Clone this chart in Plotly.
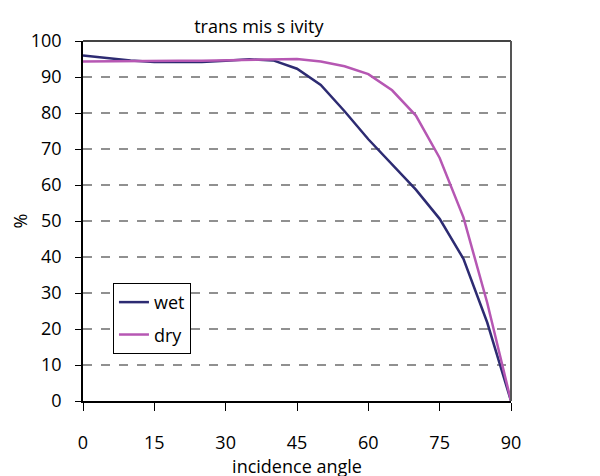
import plotly.graph_objects as go

angles = [0, 5, 10, 15, 20, 25, 30, 35, 40, 45, 50, 55, 60, 65, 70, 75, 80, 85, 90]
wet = [96.0, 95.3, 94.6, 94.2, 94.1, 94.2, 94.5, 94.9, 94.6, 92.3, 87.8, 80.5, 72.7, 65.8, 58.7, 50.6, 39.5, 21.8, 0.0]
dry = [94.3, 94.4, 94.5, 94.5, 94.5, 94.5, 94.6, 94.9, 95.0, 95.0, 94.3, 93.0, 90.8, 86.3, 79.3, 67.5, 51.0, 27.3, 0.0]
x_ticks = [0, 15, 30, 45, 60, 75, 90]
y_ticks = [0, 10, 20, 30, 40, 50, 60, 70, 80, 90, 100]

FONT = "Open Sans"

fig = go.Figure()
fig.add_trace(go.Scatter(x=angles, y=wet, mode="lines", name="wet", legendgroup="a",
                         line=dict(color="#2d2b72", width=2.5)))
fig.add_trace(go.Scatter(x=angles, y=dry, mode="lines", name="dry", legendgroup="b",
                         line=dict(color="#b657b3", width=2.5)))

fig.update_layout(
    width=600, height=476,
    margin=dict(l=75, r=97, t=33, b=83, autoexpand=False),
    paper_bgcolor="white", plot_bgcolor="white",
    font=dict(family=FONT, size=18, color="black"),
    title=dict(text="trans mis s ivity", x=0.418, xanchor="center", y=0.96, yanchor="middle",
               font=dict(family=FONT, size=18, color="black")),
    showlegend=True,
    legend=dict(x=0.07, y=0.328, xanchor="left", yanchor="top",
                bgcolor="white", bordercolor="black", borderwidth=1,
                font=dict(family=FONT, size=18, color="black"),
                itemwidth=30, tracegroupgap=6),
    xaxis=dict(range=[0, 90], tickvals=x_ticks, ticktext=[str(v) for v in x_ticks],
               showgrid=False, zeroline=False, showline=True, linecolor="black", linewidth=1.5,
               ticks="outside", ticklen=8, tickcolor="black", tickwidth=1,
               ticklabelstandoff=17, automargin=False,
               tickfont=dict(family=FONT, size=18),
               title=dict(text="incidence angle", standoff=2, font=dict(family=FONT, size=18))),
    yaxis=dict(range=[0, 100], tickvals=y_ticks, ticktext=[str(v) for v in y_ticks],
               showgrid=True, gridcolor="#909090", griddash="dash", gridwidth=1.5,
               zeroline=False, showline=True, linecolor="black", linewidth=1.5,
               ticks="outside", ticklen=6, tickcolor="black", tickwidth=1,
               ticklabelstandoff=10, automargin=False,
               tickfont=dict(family=FONT, size=18),
               title=dict(text="%", standoff=4, font=dict(family=FONT, size=18))),
    shapes=[
        dict(type="line", xref="paper", yref="paper", x0=0, x1=1, y0=1, y1=1,
             line=dict(color="#444444", width=2)),
        dict(type="line", xref="paper", yref="paper", x0=1, x1=1, y0=0, y1=1,
             line=dict(color="#555555", width=2)),
    ],
)

fig.write_html("out.html")
